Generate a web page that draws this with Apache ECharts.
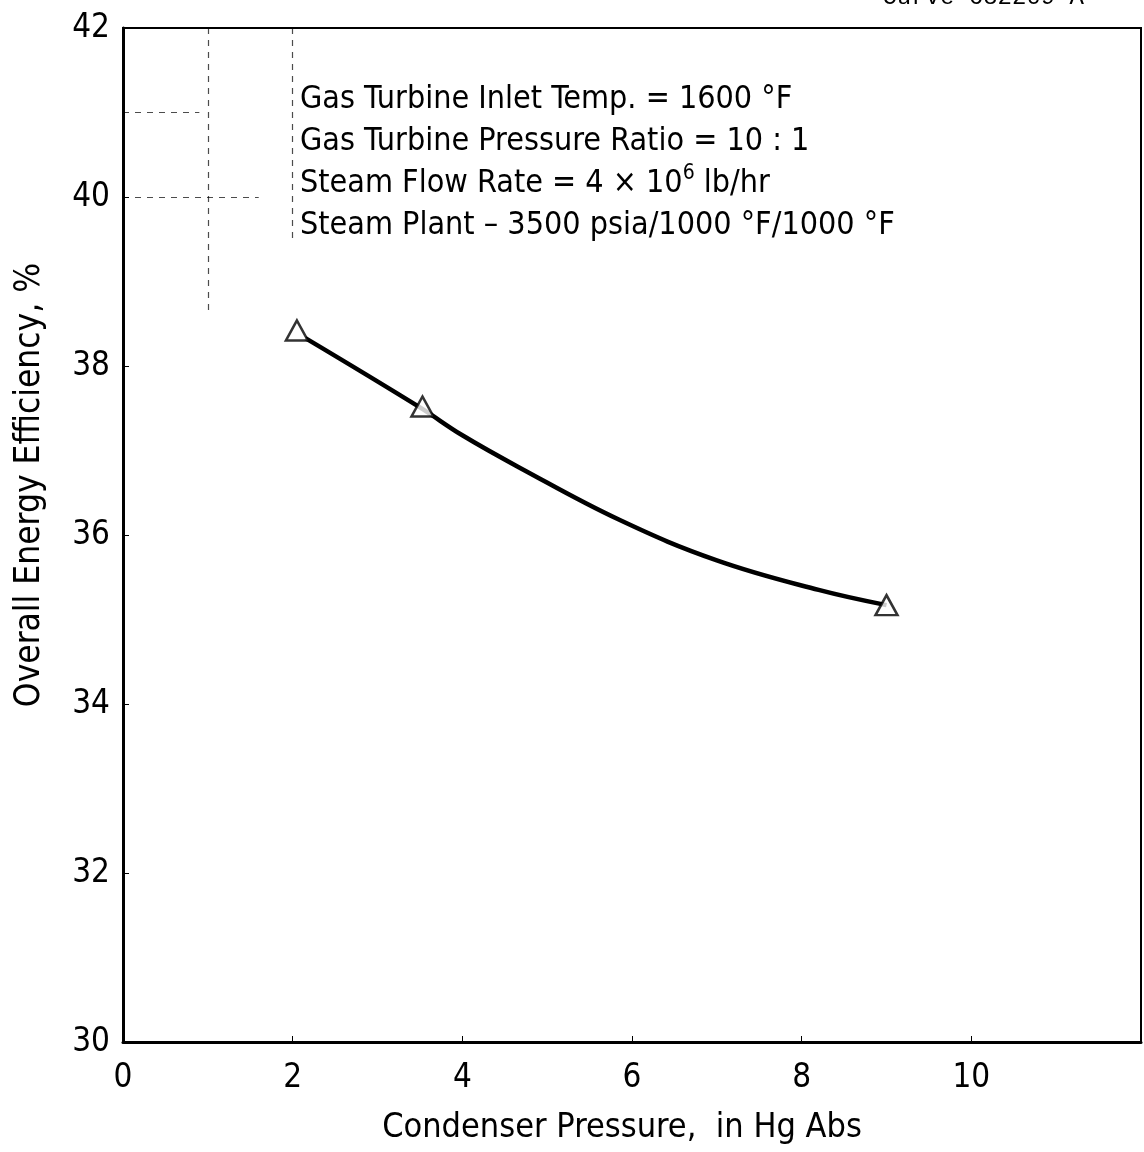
<!DOCTYPE html>
<html><head><meta charset="utf-8">
<script src="https://cdn.jsdelivr.net/npm/echarts@6/dist/echarts.min.js"></script>
<style>html,body{margin:0;padding:0;background:#fff}#c{width:1144px;height:1152px}</style>
</head><body><div id="c"></div>
<script>
// Measured data points (triangles)
const pointX = [2.05, 3.53, 9.0];
const pointY = [38.42, 37.52, 35.17];
// Fitted curve
const curveX = [2.15, 3.5, 4.0, 4.67, 5.85, 7.0, 8.2, 9.0];
const curveY = [38.33, 37.51, 37.18, 36.80, 36.18, 35.70, 35.35, 35.17];
const xTicks = [0, 2, 4, 6, 8, 10];
const yTicks = [30, 32, 34, 36, 38, 40, 42];
const xTitle = 'Condenser Pressure,  in Hg Abs';
const yTitle = 'Overall Energy Efficiency, %';
const noteLines = [
  'Gas Turbine Inlet Temp. = 1600 °F',
  'Gas Turbine Pressure Ratio = 10 : 1',
  'Steam Flow Rate = 4 × 10{s|6} lb/hr',
  'Steam Plant – 3500 psia/1000 °F/1000 °F'
];
const curveId = 'Curve 682209-A';

const FONT = '"DejaVu Sans Condensed","Liberation Sans Narrow","Roboto Condensed",sans-serif';
const chart = echarts.init(document.getElementById('c'));
const grid = {left:123, right:1, top:28, bottom:110};
chart.setOption({
  animation:false,
  backgroundColor:'#fff',
  grid:{...grid, show:true, borderColor:'#000', borderWidth:2, backgroundColor:'transparent'},
  xAxis:{type:'value', min:0, max:12, interval:2,
    axisLine:{lineStyle:{color:'#000', width:3}},
    axisTick:{inside:true, length:6, lineStyle:{color:'#000', width:1}},
    axisLabel:{fontFamily:FONT, fontSize:33, color:'#000', margin:20,
      formatter:v=> xTicks.includes(v) ? String(v) : ''},
    splitLine:{show:false}},
  yAxis:{type:'value', min:30, max:42, interval:2,
    axisLine:{lineStyle:{color:'#000', width:3}},
    axisTick:{inside:true, length:6, lineStyle:{color:'#000', width:1}},
    axisLabel:{fontFamily:FONT, fontSize:33, color:'#000', margin:13,
      formatter:v=> yTicks.includes(v) ? String(v) : ''},
    splitLine:{show:false}},
  series:[
    {type:'line', data:curveX.map((x,i)=>[x,curveY[i]]), smooth:0.4, symbol:'none',
     lineStyle:{color:'#000', width:4.5}, z:2,
     markLine:{silent:true, symbol:'none', label:{show:false},
       lineStyle:{color:'#000', width:1.2, type:[6,6], opacity:0.7},
       data:[
         [{coord:[1,42]},{coord:[1,38.6]}],
         [{coord:[2,42]},{coord:[2,39.5]}],
         [{coord:[0,41]},{coord:[0.9,41]}],
         [{coord:[0,40]},{coord:[1.6,40]}]
       ]}},
    {type:'scatter', data:pointX.map((x,i)=>[x,pointY[i]]), symbol:'triangle', symbolSize:[22,20],
     itemStyle:{color:'#fff', borderColor:'#000', borderWidth:2.5}, z:3}
  ],
  graphic:[
    {type:'text', left:300, top:79, style:{
      text:noteLines.join('\n'), fontFamily:FONT, fontSize:32, lineHeight:42, fill:'#000',
      rich:{s:{fontSize:21, verticalAlign:'top', fontFamily:FONT, fill:'#000', padding:[0,0,16,0]}}}},
    {type:'text', x:622, y:1128, style:{
      text:xTitle, fontFamily:FONT, fontSize:34, fill:'#000', align:'center', verticalAlign:'middle'}},
    {type:'text', x:30, y:485, rotation:Math.PI/2, style:{
      text:yTitle, fontFamily:FONT, fontSize:35, fill:'#000', align:'center', verticalAlign:'middle'}},
    {type:'text', right:60, top:-14, style:{
      text:curveId, fontFamily:'"Liberation Mono","DejaVu Sans Mono",monospace', fontSize:24, fill:'#000'}}
  ]
});
</script></body></html>
